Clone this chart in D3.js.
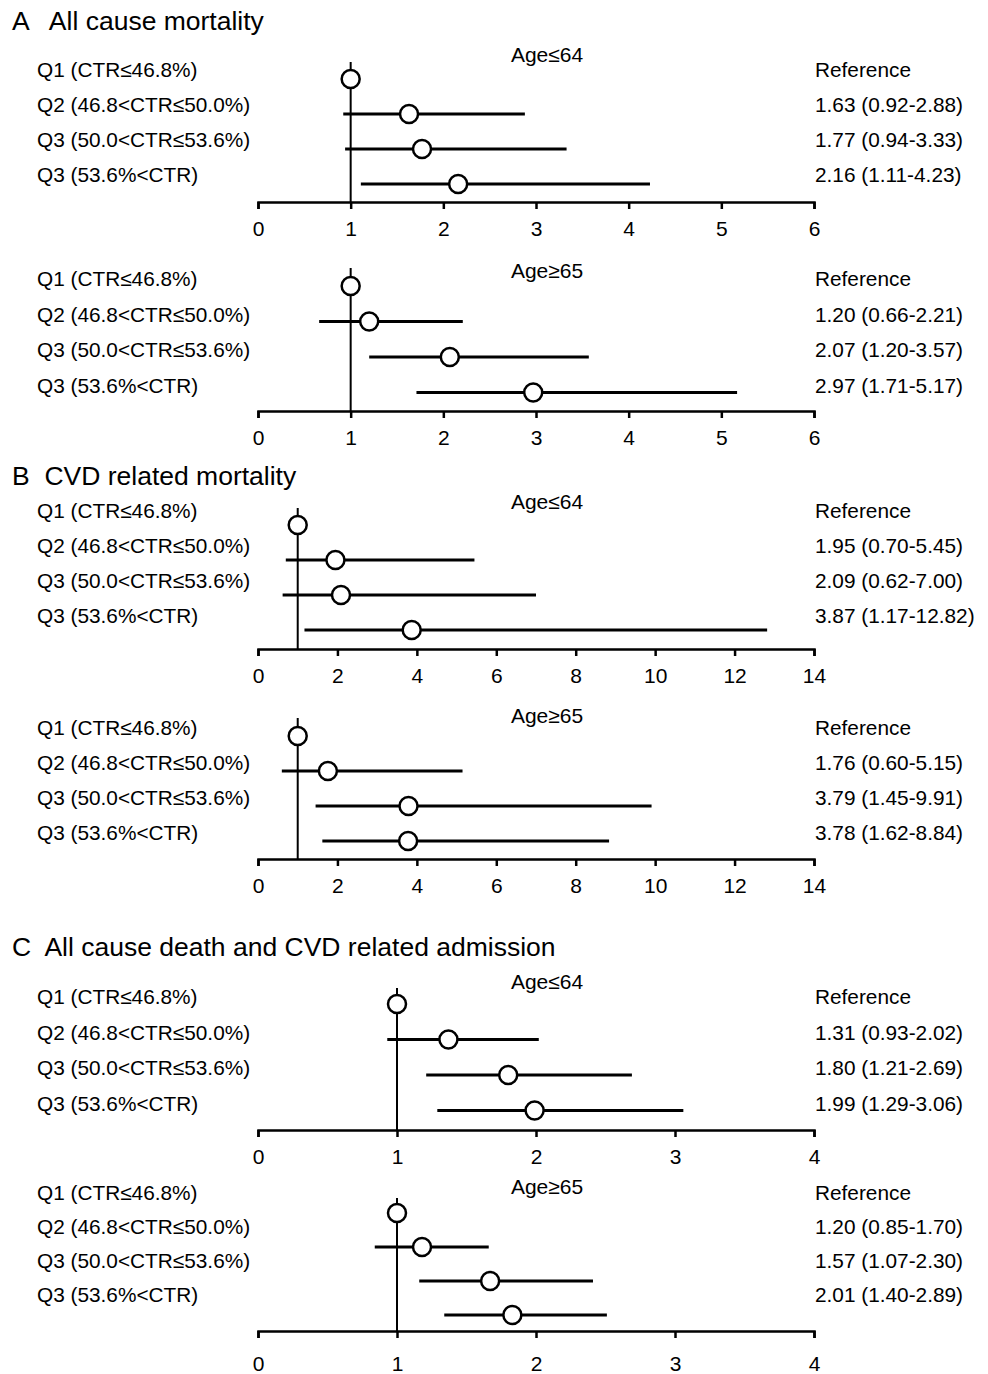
<!DOCTYPE html>
<html>
<head>
<meta charset="utf-8">
<script src="https://cdn.jsdelivr.net/npm/d3@7"></script>
<style>
  body { margin: 0; background: #fff; }
  svg text { font-family: "Liberation Sans", Arial, sans-serif; fill: #000; }
</style>
</head>
<body>
<svg id="chart" width="988" height="1374"></svg>
<script>
// Data
const rowLabels = ['Q1 (CTR≤46.8%)', 'Q2 (46.8<CTR≤50.0%)', 'Q3 (50.0<CTR≤53.6%)', 'Q3 (53.6%<CTR)'];
const sectionTitles = ['A   All cause mortality', 'B  CVD related mortality', 'C  All cause death and CVD related admission'];
const ageGroups = ['Age≤64', 'Age≥65', 'Age≤64', 'Age≥65', 'Age≤64', 'Age≥65'];
const axisMax = [6, 6, 14, 14, 4, 4];
const axisStep = [1, 1, 2, 2, 1, 1];

// point estimate, lower and upper CI as drawn
const est = [
    [1, 1.63, 1.77, 2.16],
    [1, 1.20, 2.07, 2.97],
    [1, 1.95, 2.09, 3.87],
    [1, 1.76, 3.79, 3.78],
    [1, 1.37, 1.80, 1.99],
    [1, 1.18, 1.67, 1.83]
];
const lower = [
    [null, 0.92, 0.94, 1.11],
    [null, 0.66, 1.20, 1.71],
    [null, 0.70, 0.62, 1.17],
    [null, 0.60, 1.45, 1.62],
    [null, 0.93, 1.21, 1.29],
    [null, 0.84, 1.16, 1.34]
];
const upper = [
    [null, 2.88, 3.33, 4.23],
    [null, 2.21, 3.57, 5.17],
    [null, 5.45, 7.00, 12.82],
    [null, 5.15, 9.91, 8.84],
    [null, 2.02, 2.69, 3.06],
    [null, 1.66, 2.41, 2.51]
];
const hrText = [
    ['Reference', '1.63 (0.92-2.88)', '1.77 (0.94-3.33)', '2.16 (1.11-4.23)'],
    ['Reference', '1.20 (0.66-2.21)', '2.07 (1.20-3.57)', '2.97 (1.71-5.17)'],
    ['Reference', '1.95 (0.70-5.45)', '2.09 (0.62-7.00)', '3.87 (1.17-12.82)'],
    ['Reference', '1.76 (0.60-5.15)', '3.79 (1.45-9.91)', '3.78 (1.62-8.84)'],
    ['Reference', '1.31 (0.93-2.02)', '1.80 (1.21-2.69)', '1.99 (1.29-3.06)'],
    ['Reference', '1.20 (0.85-1.70)', '1.57 (1.07-2.30)', '2.01 (1.40-2.89)']
];

// Layout of each sub panel (pixel positions)
const layout = [
    { rowY: 79,   gap: 35,   axisY: 202,  refTop: 62,   ageY: 55,   textY: 70,   pad: 12 },
    { rowY: 286,  gap: 35.5, axisY: 411,  refTop: 268,  ageY: 271,  textY: 279,  pad: 12 },
    { rowY: 525,  gap: 35,   axisY: 649,  refTop: 508,  ageY: 502,  textY: 511,  pad: 12 },
    { rowY: 736,  gap: 35,   axisY: 859,  refTop: 718,  ageY: 716,  textY: 728,  pad: 12 },
    { rowY: 1004, gap: 35.5, axisY: 1130, refTop: 988,  ageY: 982,  textY: 997,  pad: 12 },
    { rowY: 1213, gap: 34,   axisY: 1331, refTop: 1198, ageY: 1187, textY: 1193, pad: 18 }
];
const titleY = [21, 476, 947];

const svg = d3.select('#chart');
const FONT = 20.8;

// Section titles
svg.selectAll('text.title')
    .data(sectionTitles)
    .join('text')
    .attr('class', 'title')
    .attr('x', 12)
    .attr('y', (d, i) => titleY[i])
    .attr('dy', '0.35em')
    .style('font-size', '26.5px')
    .style('white-space', 'pre')
    .text(d => d);

layout.forEach((L, p) => {
    const g = svg.append('g');
    const x = d3.scaleLinear().domain([0, axisMax[p]]).range([258, 814]);

    // axis
    const axis = d3.axisBottom(x)
        .tickValues(d3.range(0, axisMax[p] + 1, axisStep[p]))
        .tickSize(7)
        .tickPadding(L.pad)
        .tickFormat(d3.format('d'));
    const ag = g.append('g')
        .attr('transform', `translate(0,${L.axisY})`)
        .call(axis);
    ag.selectAll('path, line').attr('stroke', '#000').attr('stroke-width', 2.5);
    ag.selectAll('text')
        .style('font-size', '21px')
        .style('font-family', '"Liberation Sans", Arial, sans-serif')
        .attr('fill', '#000');

    // reference line at HR = 1
    g.append('line')
        .attr('x1', x(1)).attr('x2', x(1))
        .attr('y1', L.refTop).attr('y2', L.axisY)
        .attr('stroke', '#000')
        .attr('stroke-width', 2);

    // age group header
    g.append('text')
        .attr('x', 547)
        .attr('y', L.ageY)
        .attr('dy', '0.35em')
        .attr('text-anchor', 'middle')
        .style('font-size', '21px')
        .text(ageGroups[p]);

    const rows = d3.range(4);

    // row labels left
    g.selectAll('text.row')
        .data(rows)
        .join('text')
        .attr('class', 'row')
        .attr('x', 37)
        .attr('y', i => L.textY + i * L.gap)
        .attr('dy', '0.35em')
        .style('font-size', FONT + 'px')
        .text(i => rowLabels[i]);

    // HR text right
    g.selectAll('text.hr')
        .data(rows)
        .join('text')
        .attr('class', 'hr')
        .attr('x', 815)
        .attr('y', i => L.textY + i * L.gap)
        .attr('dy', '0.35em')
        .style('font-size', FONT + 'px')
        .text(i => hrText[p][i]);

    // CI lines
    g.selectAll('line.ci')
        .data(rows.filter(i => lower[p][i] != null))
        .join('line')
        .attr('class', 'ci')
        .attr('x1', i => x(lower[p][i]))
        .attr('x2', i => x(upper[p][i]))
        .attr('y1', i => L.rowY + i * L.gap)
        .attr('y2', i => L.rowY + i * L.gap)
        .attr('stroke', '#000')
        .attr('stroke-width', 2.8);

    // point estimates
    g.selectAll('circle')
        .data(rows)
        .join('circle')
        .attr('cx', i => x(est[p][i]))
        .attr('cy', i => L.rowY + i * L.gap)
        .attr('r', 9)
        .attr('fill', '#fff')
        .attr('stroke', '#000')
        .attr('stroke-width', 2.5);
});
</script>
</body>
</html>
